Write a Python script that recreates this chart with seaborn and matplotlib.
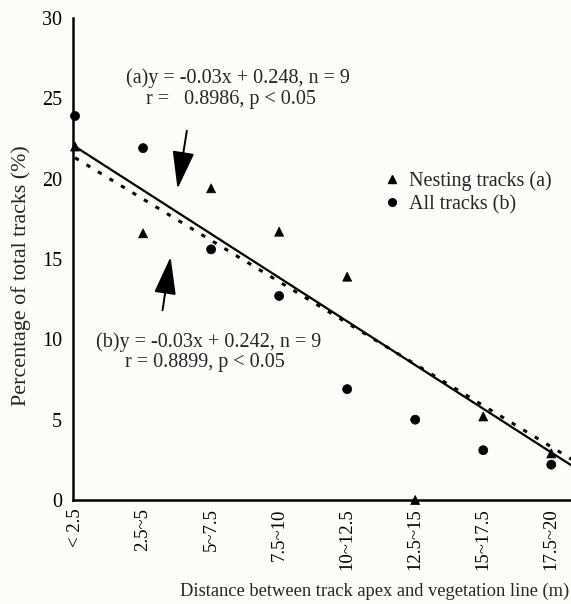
import numpy as np
import pandas as pd
import matplotlib
matplotlib.use("Agg")
import matplotlib.pyplot as plt
import seaborn as sns
from matplotlib.lines import Line2D

# =====================================================
# DATA
# =====================================================

categories = ["< 2.5", "2.5~5", "5~7.5", "7.5~10", "10~12.5",
              "12.5~15", "15~17.5", "17.5~20"]

nesting_pct = [22.0, 16.6, 19.4, 16.7, 13.9, 0.0, 5.2, 2.9]
all_pct = [23.9, 21.9, 15.6, 12.7, 6.9, 5.0, 3.1, 2.2]

# fitted lines as drawn (value at first class, change per class)
nesting_fit = [22.0, -2.72]
all_fit = [21.3, -2.57]

y_ticks = [0, 5, 10, 15, 20, 25, 30]

label_a = ["(a)y = -0.03x + 0.248, n = 9", "r =   0.8986, p < 0.05"]
label_b = ["(b)y = -0.03x + 0.242, n = 9", "r = 0.8899, p < 0.05"]

# =====================================================
# TABLES
# =====================================================

pos = np.arange(len(categories))

points = pd.concat([
    pd.DataFrame({"pos": pos, "pct": nesting_pct,
                  "series": "Nesting tracks (a)"}),
    pd.DataFrame({"pos": pos, "pct": all_pct,
                  "series": "All tracks (b)"}),
])

x_line = np.array([0.0, 7.5])
lines = pd.concat([
    pd.DataFrame({"pos": x_line,
                  "pct": nesting_fit[0] + nesting_fit[1] * x_line,
                  "series": "a"}),
    pd.DataFrame({"pos": x_line,
                  "pct": all_fit[0] + all_fit[1] * x_line,
                  "series": "b"}),
])

# =====================================================
# PLOT
# =====================================================

sns.set_style("white")
plt.rcParams["font.family"] = ["Liberation Serif", "DejaVu Serif"]
plt.rcParams["font.size"] = 14.5

fig = plt.figure(figsize=(5.71, 6.04), dpi=100)
fig.patch.set_facecolor("#fdfcf8")

ax = fig.add_axes([73 / 571, 104 / 604, 1 - 73 / 571, 482 / 604])
ax.set_facecolor("#fdfcf8")

sns.lineplot(
    data=lines[lines.series == "a"],
    x="pos", y="pct",
    color="black", lw=1.6,
    ax=ax, legend=False
)

sns.lineplot(
    data=lines[lines.series == "b"],
    x="pos", y="pct",
    color="black", lw=2.2,
    linestyle=(0, (1.4, 3.0)),
    ax=ax, legend=False
)

sns.scatterplot(
    data=points,
    x="pos", y="pct",
    style="series",
    markers={"Nesting tracks (a)": "^", "All tracks (b)": "o"},
    color="black", s=42, edgecolor="black",
    ax=ax, legend=False, clip_on=False, zorder=5
)

ax.set_xlim(-0.03, 7.29)
ax.set_ylim(0, 30)

ax.set_xticks(pos)
ax.set_xticklabels(categories, rotation=90, fontsize=13.5)
ax.set_yticks(y_ticks)

ax.tick_params(direction="in", length=6, width=1.5, colors="black")
ax.tick_params(axis="y", pad=8)
ax.tick_params(axis="x", pad=6)

for side in ["top", "right"]:
    ax.spines[side].set_visible(False)
for side in ["left", "bottom"]:
    ax.spines[side].set_linewidth(1.8)
    ax.spines[side].set_color("black")

ax.set_xlabel("Distance between track apex and vegetation line (m)",
              fontsize=13.3)
ax.set_ylabel("Percentage of total tracks (%)", fontsize=15.8)
ax.xaxis.set_label_coords(0.605, -0.172)
ax.yaxis.set_label_coords(-0.085, 0.465)

# =====================================================
# ANNOTATIONS
# =====================================================

ax.text(2.40, 26.26, label_a[0], ha="center", va="center")
ax.text(2.29, 24.9, label_a[1], ha="center", va="center")
ax.text(1.96, 9.83, label_b[0], ha="center", va="center")
ax.text(1.91, 8.53, label_b[1], ha="center", va="center")

arrow = dict(arrowstyle="-|>,head_length=1.3,head_width=0.38",
             color="black", lw=1.4, mutation_scale=18)
ax.annotate("", xy=(1.5, 19.2), xytext=(1.65, 23.15), arrowprops=arrow)
ax.annotate("", xy=(1.41, 15.3), xytext=(1.28, 11.64), arrowprops=arrow)

handles = [
    Line2D([], [], marker="^", color="black", ls="none", markersize=5.5),
    Line2D([], [], marker="o", color="black", ls="none", markersize=5.5),
]
fig.legend(
    handles, ["Nesting tracks (a)", "All tracks (b)"],
    loc="upper left", bbox_to_anchor=(0.66, 0.73),
    frameon=False, handlelength=0.7, handletextpad=0.5,
    labelspacing=0.2, borderaxespad=0
)

plt.savefig("out.png", dpi=100)
plt.close()
